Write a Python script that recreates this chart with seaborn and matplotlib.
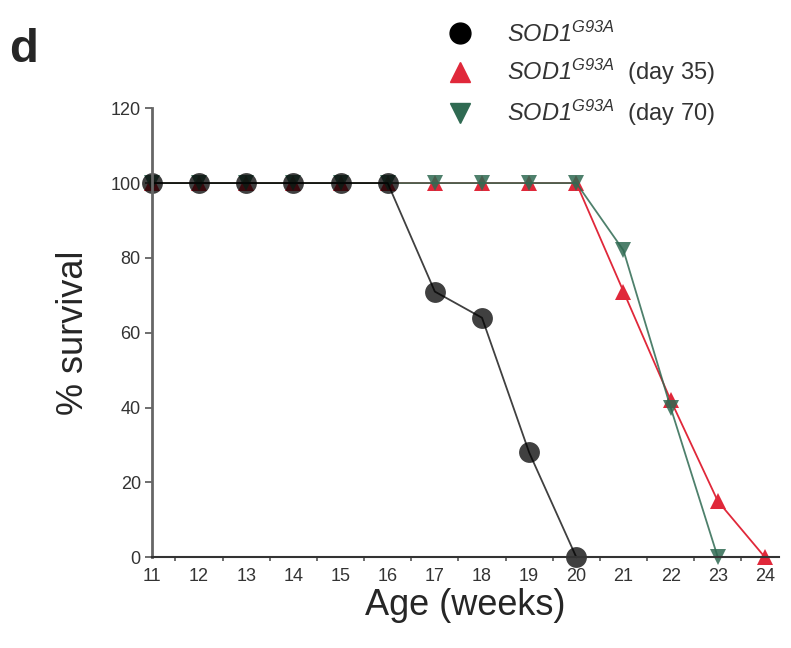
import numpy as np
import pandas as pd
import matplotlib
matplotlib.use("Agg")
import matplotlib.pyplot as plt
import seaborn as sns
from matplotlib.ticker import MultipleLocator
from matplotlib.lines import Line2D

weeks_ctrl = [11, 12, 13, 14, 15, 16, 17, 18, 19, 20]
surv_ctrl = [100, 100, 100, 100, 100, 100, 71, 64, 28, 0]
weeks_d35 = [11, 12, 13, 14, 15, 16, 17, 18, 19, 20, 21, 22, 23, 24]
surv_d35 = [100, 100, 100, 100, 100, 100, 100, 100, 100, 100, 71, 42, 15, 0]
weeks_d70 = [11, 12, 13, 14, 15, 16, 17, 18, 19, 20, 21, 22, 23]
surv_d70 = [100, 100, 100, 100, 100, 100, 100, 100, 100, 100, 82, 40, 0]

sns.set_style("ticks")
plt.rcParams['font.family'] = ['Liberation Sans', 'DejaVu Sans']
plt.rcParams['mathtext.fontset'] = 'custom'
plt.rcParams['mathtext.rm'] = 'Liberation Sans:italic'
plt.rcParams['mathtext.it'] = 'Liberation Sans:italic'

fig = plt.figure(figsize=(7.91, 6.48), dpi=100)
ax = fig.add_axes([0.192, 0.140, 0.793, 0.693])

red = "#e0283a"
green = "#2f6a52"

sns.lineplot(x=weeks_d35, y=surv_d35, ax=ax, color=red, marker="^", markersize=12,
             markeredgewidth=0, linewidth=1.3, clip_on=False)
sns.lineplot(x=weeks_d70, y=surv_d70, ax=ax, color=green, marker="v", markersize=12,
             markeredgewidth=0, linewidth=1.3, alpha=0.85, clip_on=False)
sns.lineplot(x=weeks_ctrl, y=surv_ctrl, ax=ax, color="black", marker="o", markersize=15,
             markeredgewidth=0, linewidth=1.3, alpha=0.75, clip_on=False)

ax.set_xlim(11, 24.3)
ax.set_ylim(0, 120)
ax.set_xticks(range(11, 25))
ax.set_yticks(range(0, 121, 20))
ax.xaxis.set_minor_locator(MultipleLocator(1, offset=0.5))
ax.tick_params(axis="x", which="major", length=0, labelsize=13, pad=8, colors="#333333")
ax.tick_params(axis="x", which="minor", length=3, width=1.2, color="#555555")
ax.tick_params(axis="y", length=5, width=1.2, labelsize=13, pad=3, colors="#555555",
               labelcolor="#333333")
for s in ["top", "right"]:
    ax.spines[s].set_visible(False)
ax.spines["left"].set_color("#666666")
ax.spines["left"].set_linewidth(2)
ax.spines["bottom"].set_color("#333333")
ax.spines["bottom"].set_linewidth(1.5)

ax.set_xlabel("Age (weeks)", fontsize=26, labelpad=2)
ax.set_ylabel("% survival", fontsize=26, labelpad=14)

fig.text(0.012, 0.905, "d", fontsize=34, fontweight="bold")

handles = [
    Line2D([], [], color="black", marker="o", linestyle="", markersize=15),
    Line2D([], [], color=red, marker="^", linestyle="", markersize=15),
    Line2D([], [], color=green, marker="v", linestyle="", markersize=15),
]
labels = [r"$SOD1^{G93A}$",
          r"$SOD1^{G93A}$  (day 35)",
          r"$SOD1^{G93A}$  (day 70)"]
fig.legend(handles, labels, loc="upper left", bbox_to_anchor=(0.525, 1.0),
           frameon=False, fontsize=17, handletextpad=1.0, labelspacing=0.45,
           labelcolor="#333333")

fig.savefig("out.png", dpi=100)
